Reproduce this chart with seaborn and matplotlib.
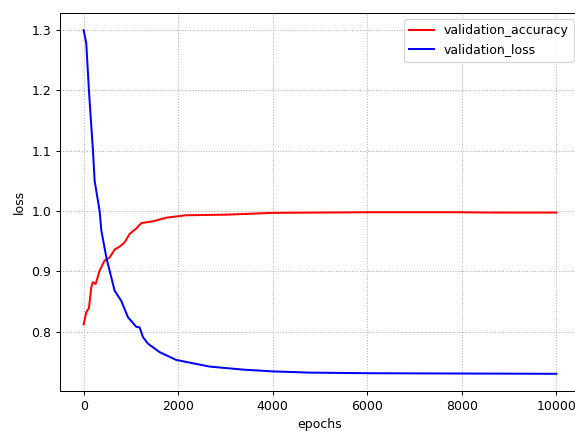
import matplotlib
matplotlib.use("Agg")
import matplotlib.pyplot as plt
import seaborn as sns
import pandas as pd

acc_epochs = [0, 56, 112, 163, 197, 254, 338, 444, 550, 655, 761, 867, 972, 1113, 1219,
              1466, 1748, 2171, 3017, 4003, 5000, 6000, 7000, 8000, 8600, 9000, 9999]
acc_values = [0.812, 0.832, 0.839, 0.874, 0.882, 0.879, 0.901, 0.918, 0.923, 0.936, 0.941,
              0.948, 0.962, 0.971, 0.980, 0.983, 0.989, 0.993, 0.994, 0.997, 0.9975, 0.998,
              0.998, 0.998, 0.9975, 0.9975, 0.9975]

loss_epochs = [0, 56, 112, 197, 233, 338, 374, 480, 550, 655, 796, 937, 1113, 1184, 1254,
               1360, 1607, 1959, 2664, 3369, 4003, 4778, 6000, 8000, 9999]
loss_values = [1.300, 1.278, 1.200, 1.100, 1.050, 1.000, 0.968, 0.923, 0.901, 0.868, 0.851,
               0.824, 0.808, 0.807, 0.791, 0.780, 0.766, 0.753, 0.742, 0.737, 0.734, 0.732,
               0.731, 0.7305, 0.730]

DPI = 90
fig = plt.figure(figsize=(575 / DPI, 431 / DPI), dpi=DPI)
ax = fig.add_axes([60 / 575, 40 / 431, 520 / 575, 378 / 431])

sns.lineplot(x=acc_epochs, y=acc_values, ax=ax, color="red", label="validation_accuracy",
             linewidth=1.6)
sns.lineplot(x=loss_epochs, y=loss_values, ax=ax, color="blue", label="validation_loss",
             linewidth=1.6)

ax.set_xlabel("epochs")
ax.set_ylabel("loss")
ax.grid(True, linestyle=":", color="#b0b0b0")
ax.legend(loc="upper right")

fig.savefig("out.png", dpi=DPI)
